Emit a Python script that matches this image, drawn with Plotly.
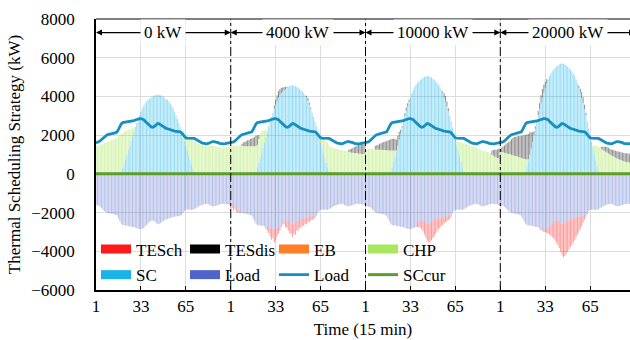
import plotly.graph_objects as go

# ---------------- data (96 x 15-min steps per case) ----------------
CASES = ["0 kW", "4000 kW", "10000 kW", "20000 kW"]
TICK_LABELS = ["1", "33", "65"]

LOAD = [
    1600, 1620, 1650, 1700, 1780, 1850, 1920, 1980, 2020, 2040, 2050, 2060,
    2080, 2100, 2130, 2170, 2300, 2450, 2580, 2650, 2660, 2670, 2680, 2690,
    2710, 2730, 2740, 2750, 2780, 2810, 2830, 2850, 2850, 2840, 2800, 2720,
    2640, 2560, 2490, 2440, 2410, 2420, 2480, 2550, 2600, 2590, 2540, 2480,
    2430, 2390, 2350, 2330, 2300, 2280, 2250, 2230, 2210, 2200, 2190, 2180,
    2170, 2120, 2020, 1920, 1860, 1850, 1850, 1860, 1860, 1850, 1830, 1790,
    1740, 1690, 1650, 1620, 1590, 1570, 1560, 1550, 1570, 1610, 1650, 1670,
    1670, 1660, 1640, 1610, 1580, 1560, 1550, 1550, 1560, 1570, 1580, 1590,
]

Z12 = [0] * 12

SC_1 = (Z12 + [0, 0, 0, 0, 0, 0, 100, 280, 500, 730, 950, 1190]
        + [1440, 1690, 1940, 2190, 2420, 2630, 2830, 3020, 3200, 3370, 3520, 3640]
        + [3740, 3810, 3870, 3930, 3980, 4030, 4060, 4090, 4100, 4090, 4060, 4030]
        + [3980, 3930, 3870, 3810, 3740, 3640, 3520, 3370, 3200, 3020, 2830, 2630]
        + [2420, 2190, 1940, 1690, 1440, 1190, 950, 730, 500, 280, 100, 0]
        + Z12 + Z12)
SC_2 = (Z12 + [0, 0, 0, 0, 0, 0, 110, 315, 560, 815, 1060, 1330]
        + [1610, 1890, 2165, 2445, 2705, 2940, 3160, 3375, 3575, 3765, 3930, 4065]
        + [4180, 4255, 4320, 4390, 4445, 4500, 4535, 4570, 4580, 4570, 4535, 4500]
        + [4445, 4390, 4320, 4255, 4180, 4065, 3930, 3765, 3575, 3375, 3160, 2940]
        + [2705, 2445, 2165, 1890, 1610, 1330, 1060, 815, 560, 315, 110, 0]
        + Z12 + Z12)
SC_3 = (Z12 + [0, 0, 0, 0, 0, 0, 123, 346, 617, 901, 1172, 1468]
        + [1777, 2085, 2394, 2702, 2986, 3245, 3492, 3727, 3949, 4159, 4344, 4492]
        + [4615, 4702, 4776, 4850, 4911, 4973, 5010, 5047, 5060, 5047, 5010, 4973]
        + [4911, 4850, 4776, 4702, 4615, 4492, 4344, 4159, 3949, 3727, 3492, 3245]
        + [2986, 2702, 2394, 2085, 1777, 1468, 1172, 901, 617, 346, 123, 0]
        + Z12 + Z12)
SC_4 = (Z12 + [0, 0, 0, 0, 0, 40, 139, 389, 695, 1015, 1321, 1654]
        + [2002, 2349, 2697, 3044, 3364, 3656, 3934, 4198, 4448, 4684, 4893, 5060]
        + [5199, 5296, 5379, 5463, 5532, 5602, 5643, 5685, 5700, 5685, 5643, 5602]
        + [5532, 5463, 5379, 5296, 5199, 5060, 4893, 4684, 4448, 4198, 3934, 3656]
        + [3364, 3044, 2697, 2349, 2002, 1654, 1321, 1015, 695, 389, 139, 40]
        + Z12 + Z12)

CHP_1 = ([1430, 1450, 1470, 1490, 1520, 1550, 1580, 1610, 1640, 1670, 1700, 1730]
         + [1760, 1790, 1830, 1870, 1920, 1980, 1940, 1820, 1650, 1470, 1290, 1080]
         + [860, 630, 400, 160, 0, 0, 0, 0, 0, 0, 0, 0]
         + Z12 + Z12
         + [0, 0, 100, 330, 560, 770, 970, 1140, 1320, 1480, 1600, 1650]
         + [1610, 1580, 1550, 1530, 1510, 1490, 1470, 1450, 1440, 1440, 1440, 1440]
         + [1430, 1420, 1400, 1390, 1380, 1370, 1360, 1360, 1370, 1370, 1380, 1400])
CHP_2 = ([1500, 1480, 1460, 1450, 1450, 1450, 1450, 1450, 1440, 1440, 1430, 1430]
         + [1430, 1420, 1420, 1420, 1420, 1420, 1310, 1185, 1240, 1285, 1140, 900]
         + [640, 370, 105, 0, 0, 0, 0, 0, 0, 0, 0, 0]
         + Z12 + Z12
         + [0, 0, 0, 160, 390, 620, 840, 985, 1140, 1285, 1390, 1380]
         + [1360, 1340, 1320, 1300, 1280, 1260, 1240, 1220, 1200, 1190, 1180, 1160]
         + [1140, 1120, 1100, 1090, 1080, 1070, 1060, 1050, 1040, 1030, 1030, 1030])
CHP_3 = ([1300, 1290, 1290, 1280, 1280, 1270, 1270, 1260, 1260, 1250, 1250, 1240]
         + [1240, 1230, 1230, 1220, 1220, 1210, 1087, 864, 593, 309, 38, 0]
         + Z12 + Z12 + Z12
         + [0, 0, 0, 0, 0, 230, 500, 750, 1000, 1250, 1450, 1560]
         + [1540, 1510, 1480, 1450, 1420, 1390, 1360, 1330, 1300, 1270, 1240, 1210]
         + [1190, 1170, 1150, 1130, 1110, 1080, 1000, 950, 900, 850, 820, 800])
CHP_4 = ([1150, 1130, 1110, 1090, 1070, 1050, 1030, 1010, 990, 960, 940, 920]
         + [900, 880, 850, 820, 790, 730, 620, 360, 60, 0, 0, 0]
         + Z12 + Z12 + Z12
         + [0, 0, 0, 0, 0, 0, 150, 450, 770, 1050, 1250, 1310]
         + [1300, 1250, 1200, 1150, 1100, 1050, 1000, 960, 920, 880, 840, 800]
         + [770, 740, 710, 680, 650, 630, 610, 600, 590, 580, 570, 560])

TESDIS_1 = [0] * 96
TESDIS_2 = ([0, 0, 0, 0, 0, 0, 0, 0, 100, 180, 220, 250]
            + [300, 330, 380, 420, 450, 500, 550, 500, 200, 0, 0, 0]
            + [0, 0, 0, 0, 0, 0, 0, 150, 250, 300, 350, 300]
            + [250, 200, 150, 100, 50, 0, 0, 0, 0, 0, 0, 0]
            + [0, 0, 0, 0, 0, 0, 100, 150, 100, 50, 0, 0]
            + Z12 + Z12
            + [100, 150, 200, 250, 300, 350, 400, 450, 500, 550, 550, 500])
TESDIS_3 = ([0, 0, 0, 0, 0, 0, 0, 180, 220, 260, 300, 340]
            + [380, 410, 440, 470, 500, 540, 580, 600, 600, 600, 550, 500]
            + [400, 200, 50, 0, 150, 200, 150, 100, 0, 0, 0, 0]
            + Z12
            + [0, 0, 0, 0, 0, 0, 0, 100, 200, 300, 250, 150]
            + Z12 + Z12
            + [0, 0, 0, 0, 0, 0, 200, 300, 350, 400, 450, 500])
TESDIS_4 = ([150, 220, 300, 380, 460, 540, 620, 700, 800, 900, 960, 1000]
            + [1030, 1070, 1110, 1150, 1190, 1230, 1260, 1280, 1300, 1135, 830, 500]
            + [200, 100, 50, 200, 300, 400, 450, 400, 300, 200, 0, 0]
            + Z12
            + [0, 0, 0, 0, 0, 0, 0, 0, 100, 200, 300, 300]
            + [200, 100, 0, 0, 0, 0, 0, 0, 0, 0, 0, 0]
            + [100, 150, 200, 250, 300, 300, 300, 300, 320, 340, 350, 370]
            + [380, 400, 400, 420, 430, 440, 450, 450, 450, 450, 450, 450])

TESCH_1 = [0] * 96
TESCH_2 = ([200, 150, 250, 100, 200, 150, 100, 50, 0, 0, 0, 0]
           + Z12
           + [0, 100, 200, 300, 450, 600, 500, 700, 600, 400, 300, 200]
           + [100, 50, 100, 300, 400, 500, 600, 550, 650, 500, 600, 450]
           + [500, 400, 450, 350, 400, 300, 350, 250, 300, 200, 200, 150]
           + [100, 50, 0, 0, 0, 0, 0, 0, 0, 0, 0, 0]
           + Z12 + Z12)
TESCH_3 = ([100, 50, 50, 0, 0, 0, 0, 0, 0, 0, 0, 0]
           + Z12
           + [0, 0, 0, 0, 0, 0, 0, 0, 0, 0, 0, 50]
           + [100, 200, 250, 350, 450, 550, 650, 750, 850, 950, 1000, 950]
           + [900, 850, 750, 650, 550, 500, 450, 400, 350, 300, 250, 200]
           + [150, 100, 0, 0, 0, 0, 0, 0, 0, 0, 0, 0]
           + Z12 + Z12)
TESCH_4 = ([80, 40, 0, 0, 0, 0, 0, 0, 0, 0, 0, 0]
           + Z12
           + [0, 0, 0, 0, 50, 100, 100, 150, 150, 200, 300, 400]
           + [550, 700, 850, 1000, 1150, 1250, 1350, 1480, 1620, 1720, 1700, 1650]
           + [1600, 1520, 1420, 1330, 1250, 1150, 1030, 900, 780, 650, 500, 350]
           + [200, 100, 50, 0, 0, 0, 0, 0, 0, 0, 0, 0]
           + Z12 + Z12)

EB_ALL = [0] * 384

# --------------- assemble the 4 cases along one axis ---------------
N = 96
x = list(range(1, 4 * N + 1))
sc = SC_1 + SC_2 + SC_3 + SC_4
chp = CHP_1 + CHP_2 + CHP_3 + CHP_4
tesdis = TESDIS_1 + TESDIS_2 + TESDIS_3 + TESDIS_4
tesch = [-v for v in TESCH_1 + TESCH_2 + TESCH_3 + TESCH_4]
load = LOAD * 4
load_neg = [-v for v in load]
sccur = [0] * (4 * N)

FONT = "Liberation Serif, Times New Roman, Tinos, serif"
C_TESCH = "#ff1a1a"
C_TESDIS = "#000000"
C_EB = "#ff7f27"
C_CHP = "#a9e85c"
C_SC = "#18b4e8"
C_LOAD = "#4f63c8"
C_LOADL = "#168fbf"
C_SCCUR = "#5c9e2a"


def rgba(hexc, a):
    h = hexc.lstrip("#")
    return "rgba(%d,%d,%d,%.2f)" % (int(h[0:2], 16), int(h[2:4], 16), int(h[4:6], 16), a)


fig = go.Figure()
bar_specs = [
    ("SC", sc, C_SC, 0.45),
    ("CHP", chp, C_CHP, 0.50),
    ("TESdis", tesdis, C_TESDIS, 0.45),
    ("EB", EB_ALL, C_EB, 0.5),
    ("Load", load_neg, C_LOAD, 0.42),
    ("TESch", tesch, C_TESCH, 0.45),
]
for name, vals, col, a in bar_specs:
    fig.add_trace(go.Bar(x=x, y=vals, name=name, marker=dict(color=rgba(col, a), line=dict(width=0)),
                         showlegend=False, hoverinfo="skip"))

fig.add_trace(go.Scatter(x=x, y=load, mode="lines", name="Load", line=dict(color=C_LOADL, width=2.8),
                         legend="legend2", legendrank=7, showlegend=True, hoverinfo="skip"))
fig.add_trace(go.Scatter(x=x, y=sccur, mode="lines", name="SCcur", line=dict(color=C_SCCUR, width=3),
                         legend="legend2", legendrank=8, showlegend=True, hoverinfo="skip"))

# legend entries (solid swatches)
leg = [("TESch", C_TESCH, "legend", 1), ("TESdis", C_TESDIS, "legend", 2), ("EB", C_EB, "legend", 3),
       ("CHP", C_CHP, "legend", 4), ("SC", C_SC, "legend2", 5), ("Load", C_LOAD, "legend2", 6)]
for name, col, lg, rk in leg:
    fig.add_trace(go.Scatter(x=[None], y=[None], mode="lines", name=name, line=dict(color=col, width=9),
                             legend=lg, legendrank=rk, showlegend=True))

# case separators and labels
Y_ARROW = 7300
for k, lab in enumerate(CASES):
    s = k * N + 1
    e = (k + 1) * N + 1
    mid = (s + e) / 2
    for tip in (s, e):
        fig.add_annotation(x=tip, y=Y_ARROW, ax=mid, ay=Y_ARROW, axref="x", ayref="y", xref="x", yref="y",
                           text="", showarrow=True, arrowhead=2, arrowsize=1, arrowwidth=1.2,
                           arrowcolor="black")
    fig.add_annotation(x=mid, y=Y_ARROW, xref="x", yref="y", text=lab, showarrow=False,
                       bgcolor="white", borderpad=3, font=dict(family=FONT, size=17, color="black"))
    if k > 0:
        fig.add_shape(type="line", x0=s, x1=s, y0=-6000, y1=8000, xref="x", yref="y",
                      line=dict(color="black", width=1, dash="dashdot"), layer="above")

fig.add_shape(type="line", x0=0, x1=1, y0=1, y1=1, xref="paper", yref="paper",
              line=dict(color="#555555", width=1.5), layer="above")

tickvals = [k * N + t for k in range(4) for t in (1, 33, 65)]
ticktext = TICK_LABELS * 4

fig.update_layout(
    width=630, height=340,
    margin=dict(l=96, r=0, t=19, b=50),
    paper_bgcolor="white", plot_bgcolor="white",
    barmode="relative", bargap=0.3,
    font=dict(family=FONT, size=17, color="black"),
    showlegend=True,
    hovermode=False,
    legend=dict(orientation="h", x=0.0, xanchor="left", y=0.15, yanchor="middle",
                entrywidth=44, font=dict(family=FONT, size=17), bgcolor="rgba(0,0,0,0)",
                itemclick=False, itemdoubleclick=False),
    legend2=dict(orientation="h", x=0.0, xanchor="left", y=0.055, yanchor="middle",
                 entrywidth=44, font=dict(family=FONT, size=17), bgcolor="rgba(0,0,0,0)",
                 itemclick=False, itemdoubleclick=False),
    xaxis=dict(range=[1, 381.4], tickmode="array", tickvals=tickvals, ticktext=ticktext,
               ticks="inside", ticklen=4, tickcolor="black", showgrid=True, gridcolor="#dcdcdc",
               showline=True, linecolor="black", linewidth=1.5, zeroline=False,
               tickfont=dict(family=FONT, size=17),
               title=dict(text="Time (15 min)", font=dict(family=FONT, size=17), standoff=8)),
    yaxis=dict(range=[-6000, 8000], tickvals=list(range(-6000, 8001, 2000)), showgrid=True,
               gridcolor="#dcdcdc", showline=True, linecolor="black", linewidth=1.5, zeroline=False,
               ticks="", ticklabelstandoff=16, tickfont=dict(family=FONT, size=17),
               title=dict(text="Thermal Scheduling Strategy (kW)", font=dict(family=FONT, size=17),
                          standoff=6)),
)

fig.write_html("out.html", config={"displayModeBar": False},
               post_script="document.body.style.margin='0';")
